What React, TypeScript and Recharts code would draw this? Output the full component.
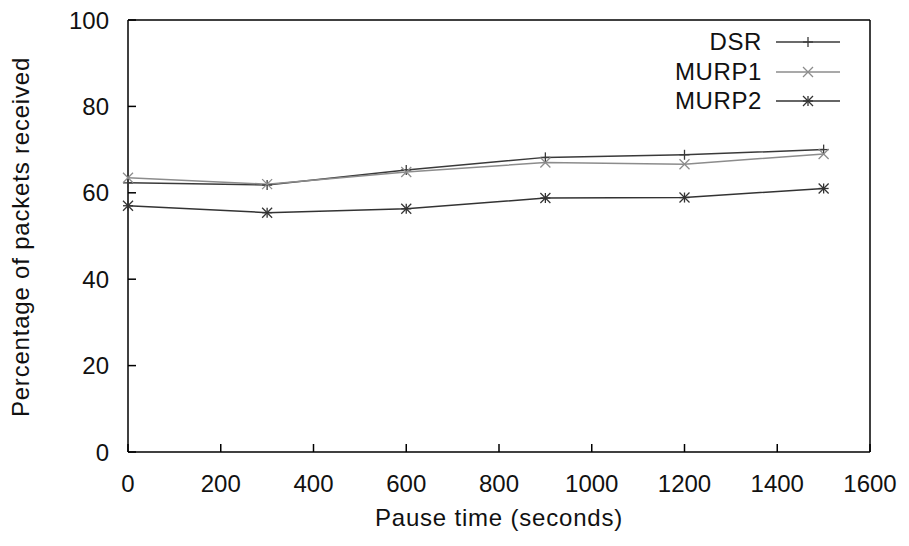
import React from 'react';
import { LineChart, Line, XAxis, YAxis } from 'recharts';

const pauseTimes = [0, 300, 600, 900, 1200, 1500];
const dsr = [62.3, 61.8, 65.3, 68.2, 68.8, 70.0];
const murp1 = [63.5, 62.0, 64.8, 67.0, 66.6, 69.0];
const murp2 = [57.0, 55.4, 56.3, 58.8, 58.9, 61.0];

const xTicks = [0, 200, 400, 600, 800, 1000, 1200, 1400, 1600];
const yTicks = [0, 20, 40, 60, 80, 100];

const FONT = '"Liberation Sans", Arial, sans-serif';

const SERIES = [
  { key: 'dsr', label: 'DSR', color: '#3a3a3a', marker: 'plus' },
  { key: 'murp1', label: 'MURP1', color: '#8c8c8c', marker: 'cross' },
  { key: 'murp2', label: 'MURP2', color: '#333333', marker: 'star' },
];

const data = pauseTimes.map((t, i) => ({
  t,
  dsr: dsr[i],
  murp1: murp1[i],
  murp2: murp2[i],
}));

// gnuplot-style point glyphs
function Glyph({ cx, cy, kind, color }: any) {
  const r = 5;
  const plus = (
    <>
      <line x1={cx - r} y1={cy} x2={cx + r} y2={cy} />
      <line x1={cx} y1={cy - r} x2={cx} y2={cy + r} />
    </>
  );
  const cross = (
    <>
      <line x1={cx - r} y1={cy - r} x2={cx + r} y2={cy + r} />
      <line x1={cx - r} y1={cy + r} x2={cx + r} y2={cy - r} />
    </>
  );
  return (
    <g stroke={color} strokeWidth={1.3} fill="none">
      {kind !== 'cross' && plus}
      {kind !== 'plus' && cross}
    </g>
  );
}

const makeDot = (kind: string, color: string) => (props: any) => {
  const { cx, cy, index } = props;
  if (cx == null || cy == null) return <g key={index} />;
  return <Glyph key={index} cx={cx} cy={cy} kind={kind} color={color} />;
};

function LegendBox() {
  return (
    <div
      style={{
        position: 'absolute',
        top: 27,
        right: 69,
        fontFamily: FONT,
        fontSize: 24,
        lineHeight: 1,
        letterSpacing: 0.6,
        color: '#111',
      }}
    >
      {SERIES.map((s) => (
        <div
          key={s.key}
          style={{ display: 'flex', alignItems: 'center', justifyContent: 'flex-end', height: 29.8 }}
        >
          <span style={{ marginRight: 14 }}>{s.label}</span>
          <svg width={64} height={14}>
            <line x1={0} y1={7} x2={64} y2={7} stroke={s.color} strokeWidth={1.5} />
            <Glyph cx={32} cy={7} kind={s.marker} color={s.color} />
          </svg>
        </div>
      ))}
    </div>
  );
}

const tickStyle = { fontFamily: FONT, fontSize: 24, fill: '#111' };

export default function App() {
  return (
    <div style={{ position: 'absolute', left: 0, top: 0, width: 909, height: 546, background: '#fff' }}>
      <LineChart
        width={909}
        height={546}
        data={data}
        margin={{ top: 19, right: 38, bottom: 64, left: 68 }}
      >
        <XAxis
          xAxisId="b"
          dataKey="t"
          type="number"
          domain={[0, 1600]}
          ticks={xTicks}
          height={30}
          stroke="#000"
          strokeWidth={1.5}
          tickSize={-8}
          tickMargin={31}
          tick={tickStyle}
        />
        <XAxis
          xAxisId="t"
          orientation="top"
          dataKey="t"
          type="number"
          domain={[0, 1600]}
          ticks={xTicks}
          height={1}
          stroke="#000"
          strokeWidth={1.5}
          tickSize={-8}
          tick={false}
        />
        <YAxis
          yAxisId="l"
          type="number"
          domain={[0, 100]}
          ticks={yTicks}
          width={60}
          stroke="#000"
          strokeWidth={1.5}
          tickSize={-8}
          tickMargin={27}
          tick={tickStyle}
        />
        <YAxis
          yAxisId="r"
          orientation="right"
          type="number"
          domain={[0, 100]}
          ticks={yTicks}
          width={1}
          stroke="#000"
          strokeWidth={1.5}
          tickSize={-8}
          tick={false}
        />
        {SERIES.map((s) => (
          <Line
            key={s.key}
            xAxisId="b"
            yAxisId="l"
            type="linear"
            dataKey={s.key}
            name={s.label}
            stroke={s.color}
            strokeWidth={1.5}
            dot={makeDot(s.marker, s.color)}
            activeDot={false}
            isAnimationActive={false}
          />
        ))}
      </LineChart>
      <LegendBox />
      <div
        style={{
          position: 'absolute',
          left: 128,
          width: 742,
          top: 504,
          textAlign: 'center',
          fontFamily: FONT,
          fontSize: 24,
          letterSpacing: 0.8,
          color: '#111',
        }}
      >
        Pause time (seconds)
      </div>
      <div
        style={{
          position: 'absolute',
          left: 21,
          top: 237,
          transform: 'translate(-50%, -50%) rotate(-90deg)',
          whiteSpace: 'nowrap',
          fontFamily: FONT,
          fontSize: 24,
          letterSpacing: 0.8,
          color: '#111',
        }}
      >
        Percentage of packets received
      </div>
    </div>
  );
}
